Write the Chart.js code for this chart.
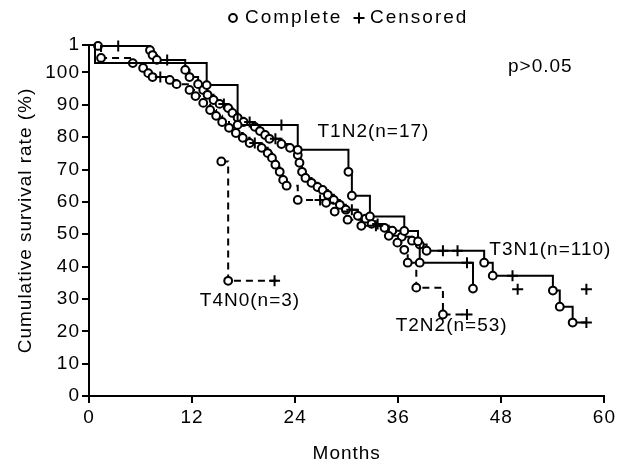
<!DOCTYPE html>
<html>
<head>
<meta charset="utf-8">
<script src="https://cdn.jsdelivr.net/npm/chart.js@4/dist/chart.umd.min.js"></script>
<style>
  html, body { margin: 0; padding: 0; background: #fff; }
  #wrap { width: 618px; height: 466px; }
</style>
</head>
<body>
<div id="wrap"><canvas id="km" width="618" height="466"></canvas></div>
<script>
// ---- values: months, cumulative survival on the axis scale ----
// marks: o = complete, + = censored, - = plain step vertex
const t3n1Months = [0, 1.05, 3.4, 7.1, 7.4, 7.9, 9.1, 11.2, 11.7, 12.7, 13.3, 13.8, 14.5, 15.2, 15.7,
  16.2, 16.7, 17.3, 18.0, 18.7, 19.3, 19.9, 20.5, 21.0, 21.7, 22.4, 23.4, 24.3, 24.5, 24.8, 25.2,
  25.9, 26.6, 27.2, 27.8, 28.5, 29.2, 29.9, 30.6, 31.3, 32.2, 32.9, 33.6, 34.4, 35.3, 36.4, 37.6,
  38.5, 39.3, 41.2, 42.9, 46.0, 47.0, 49.3, 54.0, 54.8, 56.3, 57.9];
const t3n1Values = [108.5, 108.2, 108.2, 106.9, 105.4, 103.9, 103.9, 100.8, 98.6, 96.4, 94.6, 93.1,
  91.5, 90.3, 90.3, 89.0, 87.5, 86.0, 84.7, 84.7, 83.2, 81.9, 80.7, 79.5, 79.5, 77.9, 76.7, 74.5,
  72.1, 69.3, 67.4, 65.9, 64.6, 63.7, 62.2, 60.6, 59.1, 57.6, 57.6, 55.7, 54.8, 53.2, 53.2, 52.0,
  51.1, 49.2, 48.0, 46.8, 44.9, 44.9, 44.9, 41.2, 37.2, 37.2, 32.6, 27.6, 22.7, 22.7];
const t3n1Marks = "-o+ooo+ooooooo+oooo+oooo+ooooooooooooo+ooo+oooooo++oo+ooo+".split("");

const t2n2Months = [0, 1.4, 5.1, 6.3, 6.9, 7.4, 8.3, 9.4, 10.2, 11.7, 12.4, 13.3, 14.1, 14.8, 15.5,
  16.3, 17.1, 17.9, 18.7, 19.3, 20.1, 20.8, 21.3, 21.7, 22.2, 22.6, 23.0, 24.3, 26.9, 27.6, 28.6,
  30.1, 31.7, 33.4, 34.9, 35.9, 36.7, 37.1, 38.1, 41.2, 44.0];
const t2n2Values = [108.5, 104.5, 102.9, 101.4, 99.8, 98.6, 98.6, 97.7, 96.4, 94.6, 92.7, 90.6, 88.4,
  86.6, 84.7, 82.9, 81.3, 79.8, 78.2, 78.2, 76.7, 75.1, 73.6, 71.5, 69.3, 66.8, 65.0, 60.6, 60.6,
  59.7, 57.0, 54.5, 52.6, 52.6, 49.5, 47.4, 45.2, 41.2, 33.5, 25.2, 25.2];
const t2n2Marks = "-ooooo+oooooooooooo+oooooooo+oooo+oooooo+".split("");

const t1n2Months = [0, 0.7, 13.7, 17.3, 22.4, 24.3, 30.2, 30.6, 32.7, 36.7, 38.3, 38.5, 44.0, 44.7];
const t1n2Values = [108.5, 102.9, 96.1, 83.8, 83.8, 76.1, 69.3, 61.9, 55.5, 51.0, 47.8, 41.2, 41.2, 33.2];
const t1n2Marks = "--oo+ooooooo+o".split("");
const t1n2LateCensorMonths = [49.9, 57.9];
const t1n2LateCensorValues = [33.0, 33.0];

const t4n0Months = [15.4, 16.2, 21.6, 22.0];
const t4n0Values = [72.5, 35.6, 35.6, 35.6];
const t4n0Marks = ["o", "o", "+", "-"];

const xTicks = [0, 12, 24, 36, 48, 60];
const yTicks = [0, 10, 20, 30, 40, 50, 60, 70, 80, 90, 100, 108.5];
const yTickLabels = ["0", "10", "20", "30", "40", "50", "60", "70", "80", "90", "100", "1"];

const FONT = "'Liberation Sans', Arial, Helvetica, sans-serif";

function curve(label, months, values, marks, dashed) {
  return {
    label: label,
    data: months.map((m, i) => ({ x: m, y: values[i] })),
    stepped: true,
    clip: false,
    borderColor: "#000",
    borderWidth: 2,
    borderDash: dashed ? [7, 5] : [],
    pointStyle: c => marks[c.dataIndex] === "+" ? "cross" : "circle",
    pointRadius: c => marks[c.dataIndex] === "-" ? 0 : (marks[c.dataIndex] === "+" ? 5.5 : 3.9),
    pointBorderWidth: 2,
    pointBorderColor: "#000",
    pointBackgroundColor: "#fff"
  };
}

// legend, p value and curve names
const curveLabels = [
  { text: "T1N2(n=17)", month: 26.6, value: 81.6 },
  { text: "T3N1(n=110)", month: 46.6, value: 45.2 },
  { text: "T2N2(n=53)", month: 35.7, value: 21.8 },
  { text: "T4N0(n=3)", month: 12.9, value: 29.5 }
];

const notes = {
  id: "notes",
  beforeDraw(chart) {
    chart.ctx.letterSpacing = "1px";
  },
  afterDatasetsDraw(chart) {
    const ctx = chart.ctx;
    const x = chart.scales.x, y = chart.scales.y;
    ctx.save();
    ctx.fillStyle = "#000";
    ctx.strokeStyle = "#000";
    ctx.font = "19px " + FONT;
    ctx.textBaseline = "middle";
    curveLabels.forEach(l => {
      ctx.fillText(l.text, x.getPixelForValue(l.month), y.getPixelForValue(l.value));
    });
    ctx.fillText("p>0.05", 508, 67);

    // legend
    ctx.letterSpacing = "2px";
    ctx.lineWidth = 2;
    ctx.beginPath();
    ctx.arc(233, 18, 3.9, 0, Math.PI * 2);
    ctx.fillStyle = "#fff";
    ctx.fill();
    ctx.stroke();
    ctx.fillStyle = "#000";
    ctx.fillText("Complete", 245, 18);
    ctx.beginPath();
    ctx.moveTo(353.5, 18); ctx.lineTo(364.5, 18);
    ctx.moveTo(359, 12.5); ctx.lineTo(359, 23.5);
    ctx.stroke();
    ctx.fillText("Censored", 370, 18);
    ctx.restore();
  }
};

new Chart(document.getElementById("km"), {
  type: "line",
  data: {
    datasets: [
      curve("T1N2", t1n2Months, t1n2Values, t1n2Marks, false),
      curve("T2N2", t2n2Months, t2n2Values, t2n2Marks, true),
      curve("T3N1", t3n1Months, t3n1Values, t3n1Marks, false),
      curve("T4N0", t4n0Months, t4n0Values, t4n0Marks, true),
      {
        type: "scatter",
        label: "T1N2 censored",
        data: t1n2LateCensorMonths.map((m, i) => ({ x: m, y: t1n2LateCensorValues[i] })),
        pointStyle: "cross",
        pointRadius: 5.5,
        pointBorderWidth: 2,
        borderColor: "#000",
        showLine: false
      }
    ]
  },
  options: {
    responsive: false,
    animation: false,
    devicePixelRatio: 1,
    layout: { padding: { top: 45, right: 13, left: 0, bottom: 0 } },
    plugins: { legend: { display: false }, tooltip: { enabled: false } },
    scales: {
      x: {
        type: "linear",
        min: 0,
        max: 60,
        afterBuildTicks: s => { s.ticks = xTicks.map(v => ({ value: v })); },
        afterFit: s => { s.height = 70; },
        ticks: { color: "#000", font: { family: FONT, size: 19 }, padding: 3, maxRotation: 0 },
        grid: { drawOnChartArea: false, drawTicks: true, tickLength: 7, color: "#000", lineWidth: 2 },
        border: { display: true, color: "#000", width: 2 },
        title: { display: true, text: "Months", color: "#000", font: { family: FONT, size: 19 }, padding: { top: 0, bottom: 1 } }
      },
      y: {
        type: "linear",
        min: 0,
        max: 108.5,
        afterBuildTicks: s => { s.ticks = yTicks.map(v => ({ value: v })); },
        afterFit: s => { s.width = 89; },
        ticks: {
          color: "#000",
          font: { family: FONT, size: 19 },
          padding: 2,
          callback: v => yTickLabels[yTicks.indexOf(v)]
        },
        grid: { drawOnChartArea: false, drawTicks: true, tickLength: 7, color: "#000", lineWidth: 2 },
        border: { display: true, color: "#000", width: 2 },
        title: { display: true, text: "Cumulative survival rate (%)", color: "#000", font: { family: FONT, size: 19 }, padding: { top: 14, bottom: 0 } }
      }
    }
  },
  plugins: [notes]
});
</script>
</body>
</html>
